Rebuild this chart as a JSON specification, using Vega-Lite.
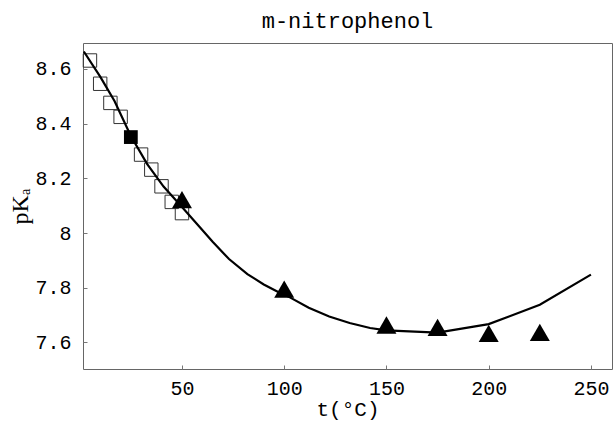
{
  "$schema": "https://vega.github.io/schema/vega-lite/v6.json",
  "width": 529,
  "height": 326,
  "autosize": {"type": "none"},
  "padding": {"left": 83, "top": 43, "right": 1, "bottom": 53},
  "background": "white",
  "title": {"text": "m-nitrophenol", "font": "Liberation Mono", "fontSize": 22, "fontWeight": "normal", "color": "black", "anchor": "middle", "baseline": "bottom", "offset": -12},
  "config": {"view": {"stroke": "#666", "strokeWidth": 1}},
  "data": {"values": [
    {"t": 2, "pKa": 8.664, "series": "fit"},
    {"t": 10, "pKa": 8.572, "series": "fit"},
    {"t": 17, "pKa": 8.483, "series": "fit"},
    {"t": 25, "pKa": 8.355, "series": "fit"},
    {"t": 33, "pKa": 8.252, "series": "fit"},
    {"t": 41, "pKa": 8.170, "series": "fit"},
    {"t": 50, "pKa": 8.095, "series": "fit"},
    {"t": 58, "pKa": 8.028, "series": "fit"},
    {"t": 65, "pKa": 7.968, "series": "fit"},
    {"t": 73, "pKa": 7.905, "series": "fit"},
    {"t": 82, "pKa": 7.850, "series": "fit"},
    {"t": 90, "pKa": 7.812, "series": "fit"},
    {"t": 98, "pKa": 7.781, "series": "fit"},
    {"t": 103, "pKa": 7.764, "series": "fit"},
    {"t": 112, "pKa": 7.727, "series": "fit"},
    {"t": 122, "pKa": 7.695, "series": "fit"},
    {"t": 132, "pKa": 7.671, "series": "fit"},
    {"t": 142, "pKa": 7.653, "series": "fit"},
    {"t": 150, "pKa": 7.644, "series": "fit"},
    {"t": 175, "pKa": 7.636, "series": "fit"},
    {"t": 200, "pKa": 7.667, "series": "fit"},
    {"t": 225, "pKa": 7.738, "series": "fit"},
    {"t": 250, "pKa": 7.848, "series": "fit"},
    {"t": 5, "pKa": 8.631, "series": "open"},
    {"t": 10, "pKa": 8.546, "series": "open"},
    {"t": 15, "pKa": 8.476, "series": "open"},
    {"t": 20, "pKa": 8.425, "series": "open"},
    {"t": 30, "pKa": 8.287, "series": "open"},
    {"t": 35, "pKa": 8.232, "series": "open"},
    {"t": 40, "pKa": 8.171, "series": "open"},
    {"t": 45, "pKa": 8.114, "series": "open"},
    {"t": 50, "pKa": 8.073, "series": "open"},
    {"t": 25, "pKa": 8.351, "series": "filled"},
    {"t": 50, "pKa": 8.122, "series": "triangle"},
    {"t": 100, "pKa": 7.795, "series": "triangle"},
    {"t": 150, "pKa": 7.664, "series": "triangle"},
    {"t": 175, "pKa": 7.655, "series": "triangle"},
    {"t": 200, "pKa": 7.633, "series": "triangle"},
    {"t": 225, "pKa": 7.637, "series": "triangle"}
  ]},
  "encoding": {
    "x": {"field": "t", "type": "quantitative",
      "scale": {"domain": [1.6, 260.3], "nice": false, "zero": false},
      "axis": {"title": "t(°C)", "values": [50, 100, 150, 200, 250], "domain": false, "grid": false,
        "tickSize": -4, "tickColor": "#777", "labelFont": "Liberation Mono", "labelFontSize": 20, "labelColor": "black",
        "labelPadding": 13, "titleFont": "Liberation Mono", "titleFontSize": 21, "titleFontWeight": "normal", "titleColor": "black", "titlePadding": 0}},
    "y": {"field": "pKa", "type": "quantitative",
      "scale": {"domain": [7.503, 8.695], "nice": false, "zero": false},
      "axis": {"title": "pKₐ", "values": [7.6, 7.8, 8, 8.2, 8.4, 8.6], "format": "~g", "domain": false, "grid": false,
        "tickSize": -4, "tickColor": "#777", "labelFont": "Liberation Mono", "labelFontSize": 20, "labelColor": "black",
        "labelPadding": 16, "titleFont": "Liberation Serif", "titleFontSize": 24, "titleFontWeight": "normal", "titleColor": "black", "titlePadding": 2}}
  },
  "layer": [
    {"transform": [{"filter": "datum.series == 'open'"}],
     "mark": {"type": "point", "shape": "square", "filled": false, "stroke": "#333", "strokeWidth": 1, "size": 180, "opacity": 1}},
    {"transform": [{"filter": "datum.series == 'fit'"}],
     "mark": {"type": "line", "color": "black", "strokeWidth": 2.2}},
    {"transform": [{"filter": "datum.series == 'filled'"}],
     "mark": {"type": "point", "shape": "square", "filled": true, "color": "black", "size": 190, "opacity": 1}},
    {"transform": [{"filter": "datum.series == 'triangle'"}],
     "mark": {"type": "point", "shape": "triangle-up", "filled": true, "color": "black", "size": 400, "opacity": 1}}
  ]
}
